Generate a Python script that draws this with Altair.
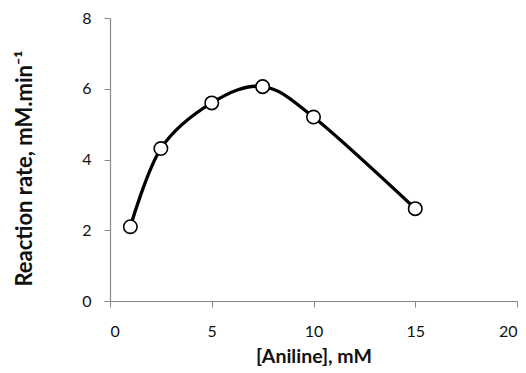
import altair as alt
import pandas as pd

aniline_mM = [1, 2.5, 5, 7.5, 10, 15]
reaction_rate = [2.1, 4.31, 5.6, 6.06, 5.2, 2.61]

df = pd.DataFrame({"x": aniline_mM, "y": reaction_rate})

FONT = "Lato"

x_enc = alt.X("x:Q", scale=alt.Scale(domain=[0, 20], nice=False),
              axis=alt.Axis(values=[0, 5, 10, 15, 20], title="[Aniline], mM",
                            grid=False, labelPadding=16, titlePadding=8,
                            titleFontSize=19.5))
y_enc = alt.Y("y:Q", scale=alt.Scale(domain=[0, 8], nice=False),
              axis=alt.Axis(values=[0, 2, 4, 6, 8], title="Reaction rate, mM.min⁻¹",
                            grid=False, labelPadding=13, titlePadding=45,
                            titleFontSize=22, titleY=150))

base = alt.Chart(df)
line = base.mark_line(color="black", strokeWidth=3.3, interpolate="cardinal").encode(x=x_enc, y=y_enc)
pts = base.mark_point(shape="circle", filled=True, fill="white", stroke="black",
                      strokeWidth=1.6, size=180, opacity=1).encode(x="x:Q", y="y:Q")

chart = (line + pts).properties(
    width=407, height=283,
    padding={"left": 5, "top": 2, "right": 0, "bottom": 0},
).configure_view(stroke=None).configure_axis(
    domainColor="#888888", tickColor="#888888", tickSize=6, domainWidth=1.2,
    labelFont=FONT, labelFontSize=16, labelColor="#111111",
    titleFont=FONT, titleFontWeight="bold", titleColor="#111111",
)

chart.save("out.html", embed_options={"renderer": "svg", "actions": False})
